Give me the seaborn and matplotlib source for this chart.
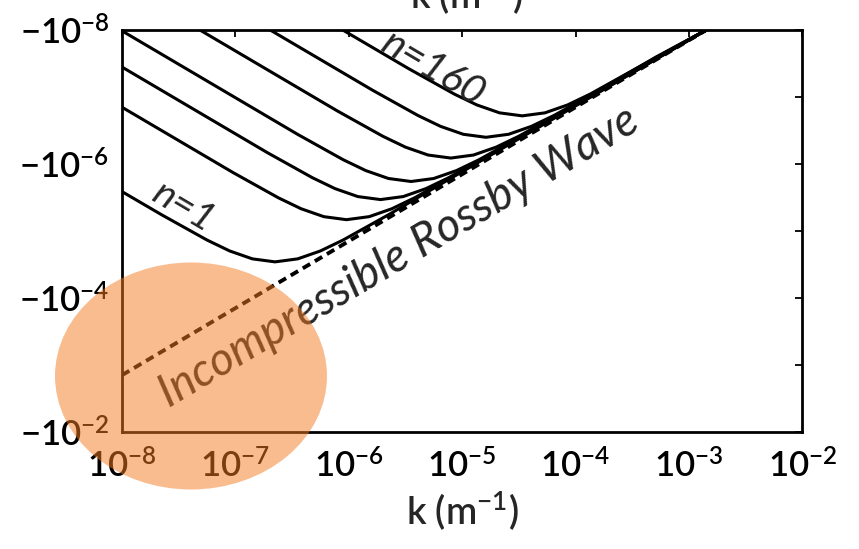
import numpy as np
import pandas as pd
import matplotlib
matplotlib.use("Agg")
import matplotlib.pyplot as plt
from matplotlib.patches import Ellipse
import seaborn as sns

# ---- data (log10 values) ----
# x: log10 k (m^-1); y: log10 |omega| (axis shows -10^y)
c1_logk = [-8.00, -7.65, -7.25, -7.05, -6.85, -6.65, -6.45, -6.25, -6.05, -5.65, -5.15, -2.85]
c1_logw = [-5.59, -5.244, -4.867, -4.704, -4.586, -4.541, -4.586, -4.704, -4.867, -5.244, -5.740, -8.00]
c2_logk = [-8.00, -7.02, -6.62, -6.42, -6.22, -6.02, -5.82, -5.62, -5.42, -5.02, -4.52, -2.85]
c2_logw = [-6.85, -5.874, -5.497, -5.334, -5.216, -5.171, -5.216, -5.334, -5.497, -5.874, -6.370, -8.00]
c3_logk = [-8.00, -6.72, -6.32, -6.12, -5.92, -5.72, -5.52, -5.32, -5.12, -4.72, -4.22, -2.85]
c3_logw = [-7.45, -6.174, -5.797, -5.634, -5.516, -5.471, -5.516, -5.634, -5.797, -6.174, -6.670, -8.00]
c4_logk = [-8.00, -6.45, -6.05, -5.85, -5.65, -5.45, -5.25, -5.05, -4.85, -4.45, -3.95, -2.85]
c4_logw = [-7.99, -6.444, -6.067, -5.904, -5.786, -5.741, -5.786, -5.904, -6.067, -6.444, -6.940, -8.00]
c5_logk = [-7.31, -6.10, -5.70, -5.50, -5.30, -5.10, -4.90, -4.70, -4.50, -4.10, -3.60, -2.85]
c5_logw = [-8.00, -6.794, -6.417, -6.254, -6.136, -6.091, -6.136, -6.254, -6.417, -6.794, -7.290, -8.00]
c6_logk = [-6.69, -5.79, -5.39, -5.19, -4.99, -4.79, -4.59, -4.39, -4.19, -3.79, -3.29, -2.85]
c6_logw = [-8.00, -7.104, -6.727, -6.564, -6.446, -6.401, -6.446, -6.564, -6.727, -7.104, -7.600, -8.00]
c7_logk = [-6.05, -5.47, -5.07, -4.87, -4.67, -4.47, -4.27, -4.07, -3.87, -3.47, -2.85]
c7_logw = [-8.00, -7.424, -7.047, -6.884, -6.766, -6.721, -6.766, -6.884, -7.047, -7.424, -8.00]
rossby_logk = [-8.00, -2.85]
rossby_logw = [-2.85, -8.00]

x_tick_exps = [-8, -7, -6, -5, -4, -3, -2]
x_tick_labels = [r"$10^{-8}$", r"$10^{-7}$", r"$10^{-6}$", r"$10^{-5}$",
                 r"$10^{-4}$", r"$10^{-3}$", r"$10^{-2}$"]
y_tick_exps = [-8, -7, -6, -5, -4, -3, -2]
y_tick_labels = [r"$-10^{-8}$", "", r"$-10^{-6}$", "", r"$-10^{-4}$", "", r"$-10^{-2}$"]
xlabel = r"k (m$^{-1}$)"
label_n1 = "n=1"
label_n160 = "n=160"
label_rossby = "Incompressible Rossby Wave"

# ---- build table ----
curves = [(c1_logk, c1_logw), (c2_logk, c2_logw), (c3_logk, c3_logw),
          (c4_logk, c4_logw), (c5_logk, c5_logw), (c6_logk, c6_logw),
          (c7_logk, c7_logw)]
rows = []
for i, (lk, lw) in enumerate(curves):
    for a, b in zip(lk, lw):
        rows.append({"curve": i, "k": 10.0 ** a, "w": 10.0 ** b})
df = pd.DataFrame(rows)
ross = pd.DataFrame({"k": 10.0 ** np.array(rossby_logk), "w": 10.0 ** np.array(rossby_logw)})

sns.set_theme(style="white")
plt.rcParams["font.family"] = ["Lato", "DejaVu Sans"]
plt.rcParams["mathtext.default"] = "regular"

fig = plt.figure(figsize=(8.59, 5.49), dpi=100)
ax = fig.add_axes([0.142, 0.213, 0.792, 0.732])

sns.lineplot(data=ross, x="k", y="w", ax=ax, color="black", lw=2.8,
             linestyle=(0, (2.2, 1.4)), sort=False, estimator=None)
sns.lineplot(data=df, x="k", y="w", units="curve", estimator=None, sort=False,
             ax=ax, color="black", lw=2.2)

ax.set_xscale("log")
ax.set_yscale("log")
ax.set_xlim(1e-8, 1e-2)
ax.set_ylim(1e-2, 1e-8)

ax.set_xticks([10.0 ** e for e in x_tick_exps], labels=x_tick_labels)
ax.set_yticks([10.0 ** e for e in y_tick_exps], labels=y_tick_labels)
ax.minorticks_off()
ax.tick_params(axis="both", which="major", direction="in", length=5, width=1.3,
               top=True, right=True, labelsize=25, colors="black")
ax.tick_params(axis="x", pad=12)
ax.tick_params(axis="y", pad=9)
for lab in ax.get_xticklabels() + ax.get_yticklabels():
    lab.set_fontweight("semibold")
ax.set_xlabel(xlabel, fontsize=27, labelpad=4, fontweight="semibold")
ax.set_ylabel("")
for s in ax.spines.values():
    s.set_linewidth(2.0)
    s.set_color("black")

ax.text(10 ** -7.46, 10 ** -5.36, label_n1, rotation=-30.6, ha="center", va="center",
        fontsize=28, style="italic")
ax.text(10 ** -5.25, 10 ** -7.43, label_n160, rotation=-30.6, ha="center", va="center",
        fontsize=29, style="italic")
ax.text(10 ** -5.56, 10 ** -4.62, label_rossby, rotation=30.6, ha="center", va="center",
        fontsize=33, style="italic")

# top, cut-off axis label (cut off in the reference as well)
fig.text(466 / 859, 1 - 9 / 549, xlabel, ha="center", va="baseline", fontsize=27,
         fontweight="semibold")

fig.add_artist(Ellipse((191 / 859, 1 - 376 / 549), width=272 / 859, height=227 / 549,
                       transform=fig.transFigure, facecolor="#F47B20", alpha=0.5,
                       edgecolor="none", zorder=10))

fig.savefig("out.png", dpi=100)
